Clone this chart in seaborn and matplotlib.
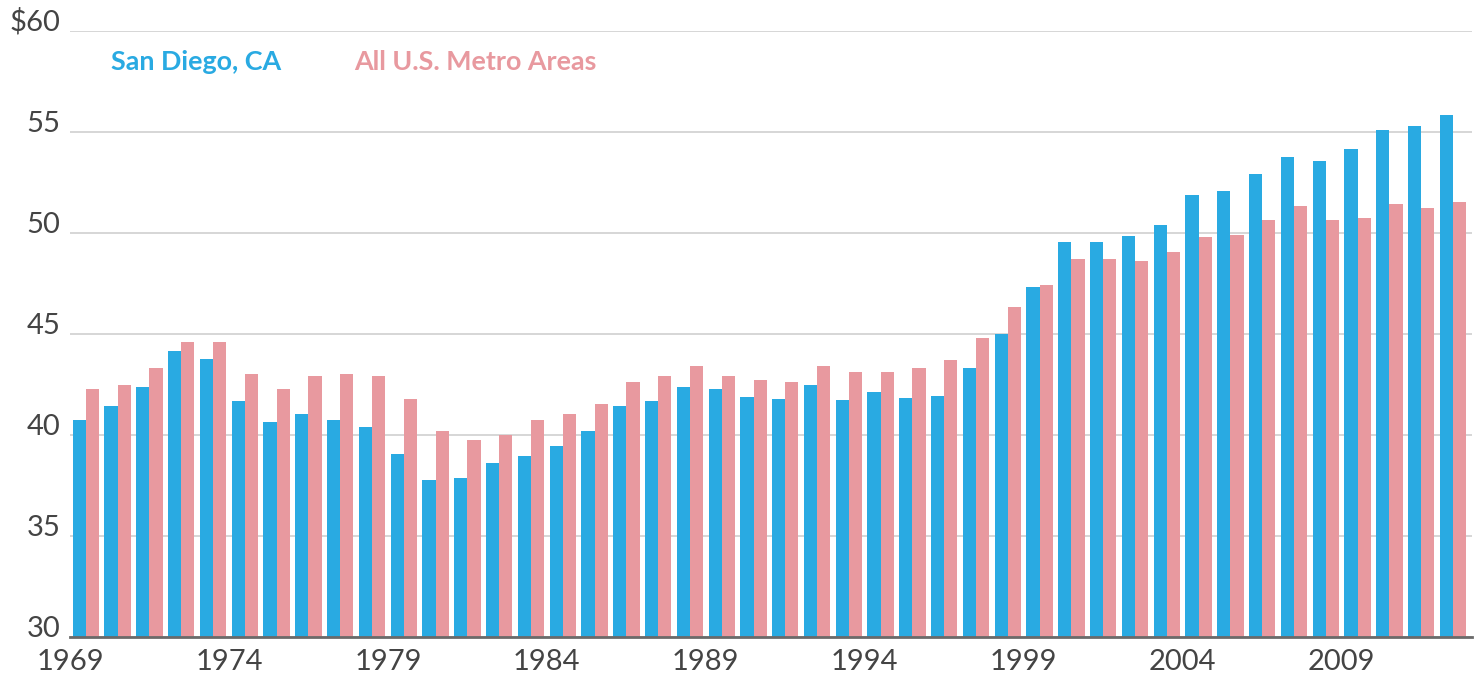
import pandas as pd
import matplotlib
matplotlib.use("Agg")
import matplotlib.pyplot as plt
import seaborn as sns

years = list(range(1969, 2013))
san_diego = [40.74, 41.45, 42.40, 44.17, 43.74, 41.67, 40.62, 41.03, 40.74, 40.41,
             39.05, 37.79, 37.85, 38.63, 38.94, 39.46, 40.20, 41.44, 41.67, 42.39,
             42.29, 41.86, 41.76, 42.48, 41.73, 42.14, 41.83, 41.94, 43.31, 45.00,
             47.31, 49.53, 49.53, 49.84, 50.41, 51.86, 52.08, 52.91, 53.74, 53.55,
             54.17, 55.11, 55.31, 55.83]
all_metro = [42.27, 42.48, 43.33, 44.58, 44.58, 43.01, 42.27, 42.91, 43.01, 42.91,
             41.76, 40.20, 39.77, 40.00, 40.72, 41.03, 41.55, 42.60, 42.91, 43.43,
             42.91, 42.70, 42.60, 43.43, 43.10, 43.10, 43.31, 43.73, 44.79, 46.36,
             47.41, 48.69, 48.69, 48.59, 49.05, 49.79, 49.89, 50.62, 51.36, 50.62,
             50.74, 51.45, 51.24, 51.55]
series_names = ["San Diego, CA", "All U.S. Metro Areas"]
colors = ["#29AAE2", "#E8999F"]

df = pd.DataFrame({
    "year": [str(y) for y in years] * 2,
    "value": san_diego + all_metro,
    "series": [series_names[0]] * len(years) + [series_names[1]] * len(years),
})

sns.set_theme(style="white")
plt.rcParams["font.family"] = ["Lato", "DejaVu Sans"]

fig = plt.figure(figsize=(14.75, 6.76), dpi=100)
ax = fig.add_axes([70 / 1475, 1 - 637 / 676, 1402 / 1475, 606 / 676])

sns.barplot(data=df, x="year", y="value", hue="series", palette=colors,
            width=0.83, saturation=1, linewidth=0, legend=False, ax=ax)

ax.set_ylim(30, 60)
ax.set_xlim(-0.5, 43.6)
ax.set_xlabel("")
ax.set_ylabel("")

# y axis: gridlines, labels sitting on the lines
yt = [30, 35, 40, 45, 50, 55, 60]
ax.set_yticks(yt)
ax.set_yticklabels([str(v) for v in yt[:-1]] + ["$60"])
ax.yaxis.grid(True, color="#d3d3d3", linewidth=1.3)
ax.set_axisbelow(True)
ax.tick_params(axis="y", length=0, pad=7, labelsize=21, labelcolor="#444444")
for lab in ax.get_yticklabels():
    lab.set_verticalalignment("baseline")

# x axis: ticks at the left edge of every fifth year
tick_years = list(range(1969, 2013, 5))
ax.set_xticks([years.index(y) - 0.5 for y in tick_years])
ax.set_xticklabels([str(y) for y in tick_years])
ax.tick_params(axis="x", direction="inout", length=10, width=1.3, color="#555555",
               pad=4, labelsize=21, labelcolor="#444444")

for s in ["top", "right", "left"]:
    ax.spines[s].set_visible(False)
ax.spines["bottom"].set_color("#6a6a6a")
ax.spines["bottom"].set_linewidth(2)
ax.spines["bottom"].set_zorder(5)

# legend as coloured text
ax.text(0.029, 0.949, series_names[0], transform=ax.transAxes, color=colors[0],
        fontsize=19.4, fontweight="bold", va="center", ha="left")
ax.text(0.203, 0.949, series_names[1], transform=ax.transAxes, color=colors[1],
        fontsize=19.4, fontweight="bold", va="center", ha="left")

fig.savefig("out.png", dpi=100)
